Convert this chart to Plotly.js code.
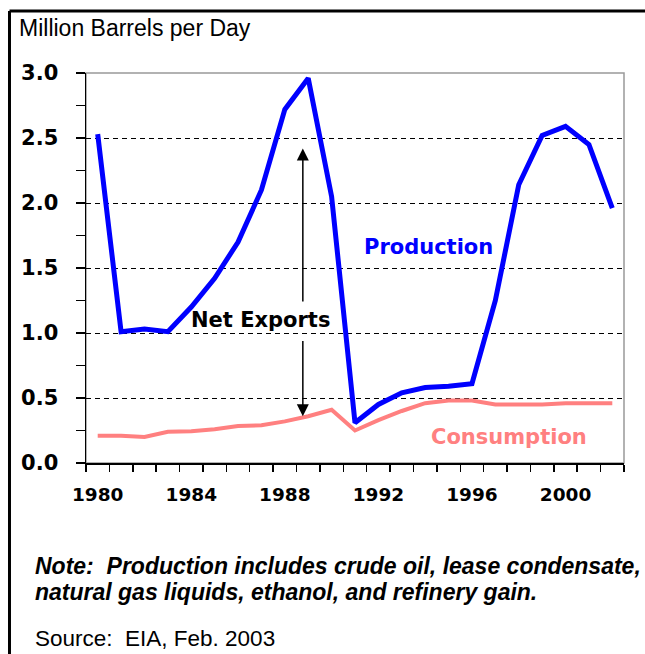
<!DOCTYPE html>
<html>
<head>
<meta charset="utf-8">
<script src="https://cdn.plot.ly/plotly-3.0.1.min.js"></script>
<style>
  html, body { margin: 0; padding: 0; background: #fff; overflow: hidden; }
  #chart { width: 645px; height: 654px; }
</style>
</head>
<body>
<div id="chart"></div>
<script>
// Years (x categories)
const years = [1980,1981,1982,1983,1984,1985,1986,1987,1988,1989,1990,1991,
               1992,1993,1994,1995,1996,1997,1998,1999,2000,2001,2002];
// Production, million barrels per day
const production = [2.53,1.01,1.03,1.01,1.20,1.42,1.70,2.10,2.72,2.96,2.05,0.31,
                    0.45,0.54,0.58,0.59,0.61,1.25,2.14,2.52,2.59,2.45,1.96];
// Consumption, million barrels per day
const consumption = [0.21,0.21,0.20,0.24,0.245,0.26,0.285,0.29,0.32,0.36,0.41,0.25,
                     0.33,0.40,0.46,0.48,0.48,0.45,0.45,0.45,0.46,0.46,0.46];
// Axis tick labels
const xTickVals = [1980,1984,1988,1992,1996,2000];
const xTickText = ['1980','1984','1988','1992','1996','2000'];
const yTickVals = [0,0.5,1.0,1.5,2.0,2.5,3.0];
const yTickText = ['0.0','0.5','1.0','1.5','2.0','2.5','3.0'];

const annFont = {family: 'DejaVu Sans', size: 21, weight: 'bold'};

const traces = [
  {x: years, y: production, type: 'scatter', mode: 'lines',
   line: {color: '#0000FF', width: 5}, hoverinfo: 'skip'},
  {x: years, y: consumption, type: 'scatter', mode: 'lines',
   line: {color: '#FF8080', width: 4}, hoverinfo: 'skip'}
];

const layout = {
  width: 645, height: 654,
  margin: {l: 86, r: 21, t: 73, b: 191},
  paper_bgcolor: '#fff', plot_bgcolor: '#fff',
  showlegend: false,
  xaxis: {
    range: [1979.5, 2002.5], tickmode: 'array', tickvals: xTickVals, ticktext: xTickText,
    ticks: '', showgrid: false, zeroline: false,
    showline: true, linecolor: '#000', linewidth: 1.5,
    tickfont: {family: 'DejaVu Sans', size: 18.5, color: '#000', weight: 'bold'},
    ticklabelstandoff: 14,
    minor: {tick0: 1979.5, dtick: 1, ticks: 'outside', ticklen: 7, tickcolor: '#000', tickwidth: 1.5, showgrid: false}
  },
  yaxis: {
    range: [0, 3], tickmode: 'array', tickvals: yTickVals, ticktext: yTickText,
    ticks: 'outside', ticklen: 9, tickcolor: '#000', tickwidth: 1.5,
    showgrid: true, gridcolor: '#000', gridwidth: 1, griddash: '5px,4px',
    zeroline: false, showline: true, linecolor: '#000', linewidth: 1.5,
    tickfont: {family: 'DejaVu Sans', size: 21, color: '#000', weight: 'bold'},
    ticklabelstandoff: 13,
    minor: {tick0: 0.25, dtick: 0.5, ticks: 'outside', ticklen: 9, tickcolor: '#000', tickwidth: 1.5, showgrid: false}
  },
  shapes: [
    {type: 'rect', xref: 'paper', yref: 'paper', x0: 0, x1: 1, y0: 0, y1: 1,
     line: {color: '#999', width: 1.5}, layer: 'below'},
    // outer frame (top and left edges)
    {type: 'line', xref: 'paper', yref: 'paper', x0: -0.1422, x1: 1.1, y0: 1.159, y1: 1.159,
     line: {color: '#000', width: 3}},
    {type: 'line', xref: 'paper', yref: 'paper', x0: -0.1422, x1: -0.1422, y0: 1.159, y1: -0.6,
     line: {color: '#000', width: 3}}
  ],
  annotations: [
    {text: 'Million Barrels per Day', xref: 'paper', yref: 'paper', x: -0.128, y: 1.115,
     xanchor: 'left', yanchor: 'middle', showarrow: false,
     font: {family: 'Liberation Sans', size: 23, color: '#000'}},
    {text: 'Production', xref: 'x', yref: 'y', x: 1994.16, y: 1.66, showarrow: false,
     font: Object.assign({}, annFont, {color: '#0000FF'})},
    {text: 'Net Exports', xref: 'x', yref: 'y', x: 1986.98, y: 1.10, showarrow: false,
     font: Object.assign({}, annFont, {color: '#000'})},
    {text: 'Consumption', xref: 'x', yref: 'y', x: 1997.6, y: 0.20, showarrow: false,
     font: Object.assign({}, annFont, {color: '#FF8080'})},
    {text: '', xref: 'x', yref: 'y', x: 1988.77, y: 2.42, axref: 'x', ayref: 'y',
     ax: 1988.77, ay: 1.23, showarrow: true, arrowhead: 2, arrowsize: 1.6, arrowwidth: 1.5, arrowcolor: '#000'},
    {text: '', xref: 'x', yref: 'y', x: 1988.77, y: 0.36, axref: 'x', ayref: 'y',
     ax: 1988.77, ay: 0.95, showarrow: true, arrowhead: 2, arrowsize: 1.6, arrowwidth: 1.5, arrowcolor: '#000'},
    {text: '<b><i>Note:  Production includes crude oil, lease condensate,</i></b>', xref: 'paper', yref: 'paper',
     x: -0.0985, y: -0.264, xanchor: 'left', yanchor: 'middle', showarrow: false,
     font: {family: 'Liberation Sans', size: 23, color: '#000'}},
    {text: '<b><i>natural gas liquids, ethanol, and refinery gain.</i></b>', xref: 'paper', yref: 'paper',
     x: -0.0985, y: -0.331, xanchor: 'left', yanchor: 'middle', showarrow: false,
     font: {family: 'Liberation Sans', size: 23, color: '#000'}},
    {text: 'Source:  EIA, Feb. 2003', xref: 'paper', yref: 'paper',
     x: -0.0985, y: -0.449, xanchor: 'left', yanchor: 'middle', showarrow: false,
     font: {family: 'Liberation Sans', size: 22.5, color: '#000'}}
  ]
};

Plotly.newPlot('chart', traces, layout, {staticPlot: true, displayModeBar: false});
</script>
</body>
</html>
